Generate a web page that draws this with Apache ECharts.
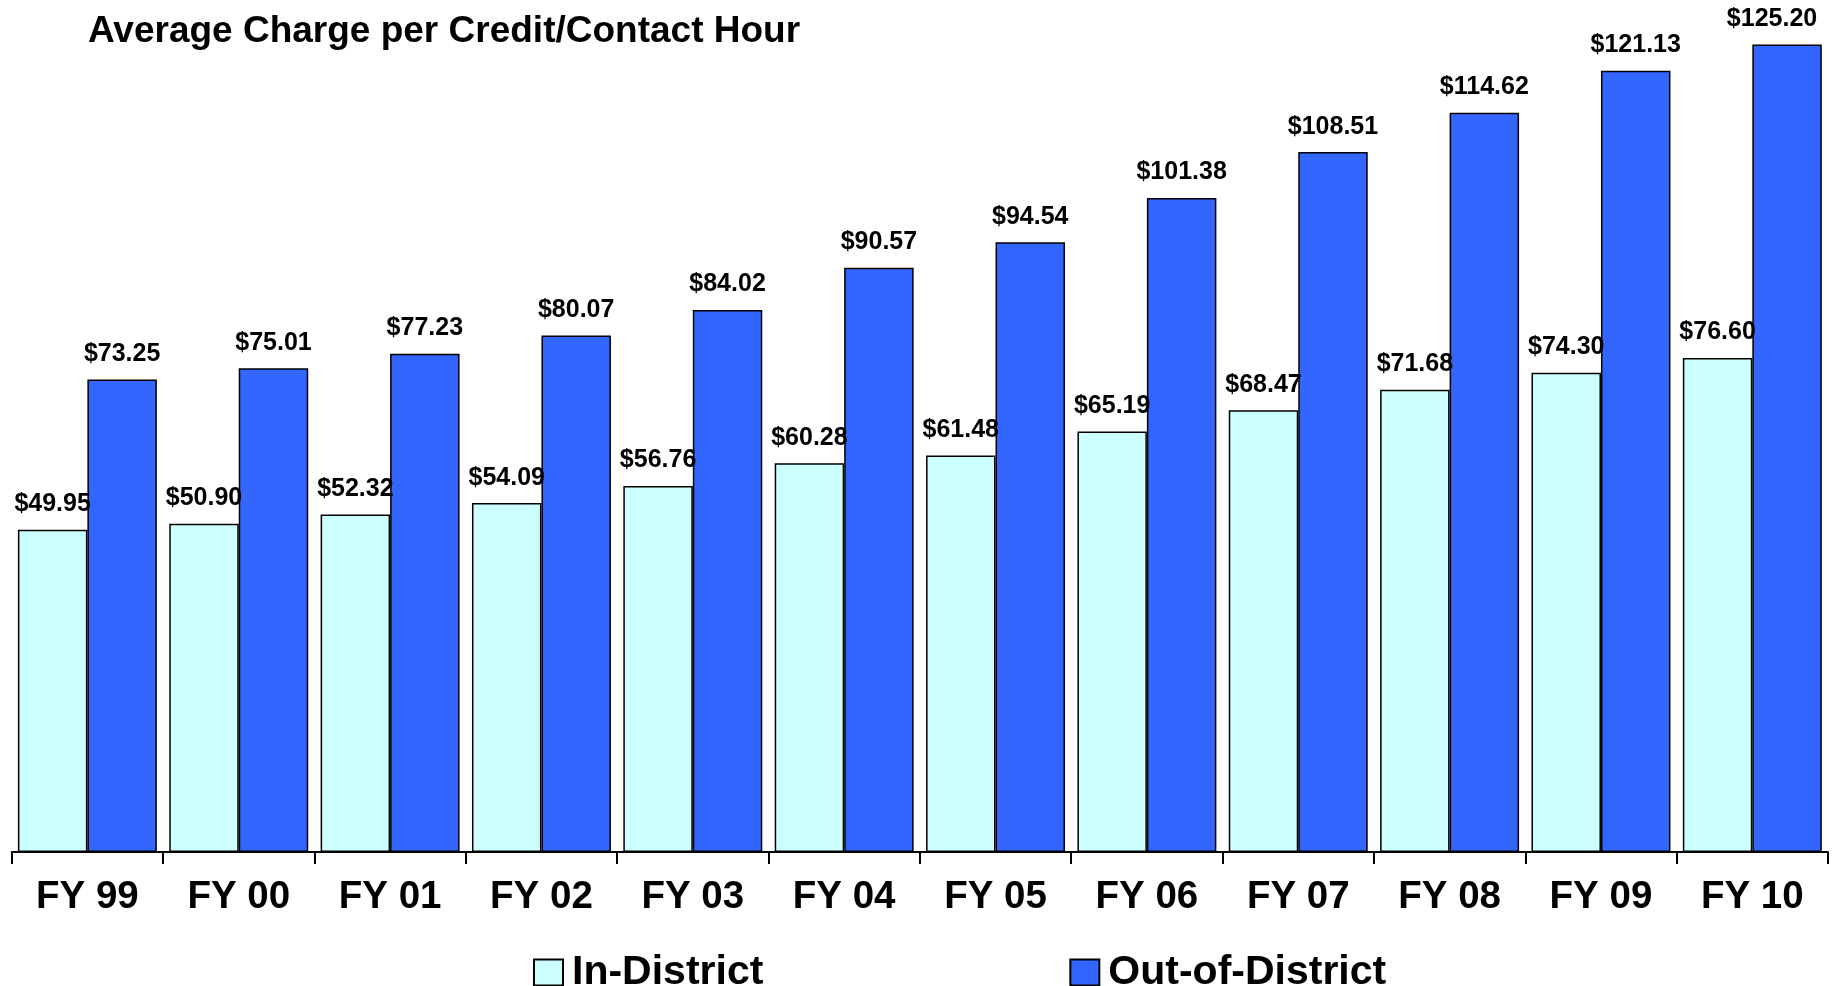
<!DOCTYPE html>
<html>
<head>
<meta charset="utf-8">
<script src="https://cdn.jsdelivr.net/npm/echarts@6/dist/echarts.min.js"></script>
<style>
html,body{margin:0;padding:0;background:#fff;}
#chart{width:1835px;height:986px;}
</style>
</head>
<body>
<div id="chart"></div>
<script>
var categories = ['FY 99','FY 00','FY 01','FY 02','FY 03','FY 04','FY 05','FY 06','FY 07','FY 08','FY 09','FY 10'];
var inDistrict = [49.95,50.90,52.32,54.09,56.76,60.28,61.48,65.19,68.47,71.68,74.30,76.60];
var outDistrict = [73.25,75.01,77.23,80.07,84.02,90.57,94.54,101.38,108.51,114.62,121.13,125.20];
var seriesNames = ['In-District','Out-of-District'];
var seriesColors = ['#CCFFFF','#3366FF'];

var font = '"Liberation Sans", Arial, sans-serif';
var chart = echarts.init(document.getElementById('chart'));
function lbl(){
  return {
    show:true, position:'top', distance:13,
    fontFamily:font, fontWeight:'bold', fontSize:25, color:'#000',
    formatter:function(p){return '$' + p.value.toFixed(2);}
  };
}
// last out-of-district label is nudged left so it stays inside the frame
var outData = outDistrict.map(function(v, i){
  return i === outDistrict.length - 1 ? {value:v, label:{offset:[-15,0]}} : v;
});
chart.setOption({
  animation:false,
  backgroundColor:'#fff',
  title:{
    text:'Average Charge per Credit/Contact Hour',
    left:88, top:13, padding:0,
    textStyle:{fontFamily:font, fontWeight:'bold', fontSize:37, color:'#000'}
  },
  legend:{
    left:528, top:947,
    icon:'rect',
    itemWidth:29, itemHeight:26, itemGap:306,
    textStyle:{fontFamily:font, fontWeight:'bold', fontSize:41, color:'#000', padding:[0,0,0,4]},
    data:seriesNames
  },
  grid:{left:11.7, right:7, top:13.5, bottom:134, containLabel:false},
  xAxis:{
    type:'category', data:categories,
    axisLine:{lineStyle:{color:'#000', width:2}},
    axisTick:{show:true, length:12, lineStyle:{color:'#000', width:2}},
    axisLabel:{fontFamily:font, fontWeight:'bold', fontSize:38.5, color:'#000', margin:26}
  },
  yAxis:{type:'value', min:0, max:130, show:false, splitLine:{show:false}},
  series:[
    {name:seriesNames[0], type:'bar', data:inDistrict, barGap:'0%', barCategoryGap:'8.2%',
     itemStyle:{color:seriesColors[0], borderColor:'#000', borderWidth:1.5}, label:lbl()},
    {name:seriesNames[1], type:'bar', data:outData, barGap:'0%', barCategoryGap:'8.2%',
     itemStyle:{color:seriesColors[1], borderColor:'#000', borderWidth:1.5}, label:lbl()}
  ]
});
</script>
</body>
</html>
